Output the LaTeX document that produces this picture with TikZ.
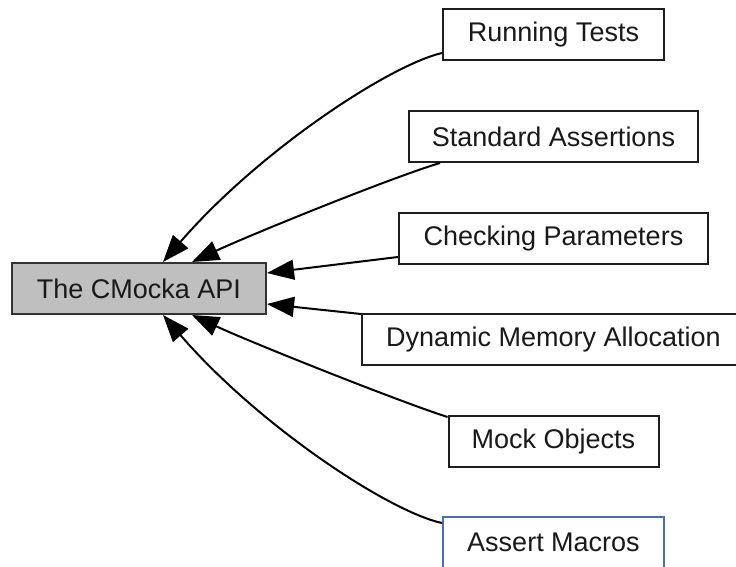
\documentclass[tikz,border=0pt]{standalone}
\usepackage{fontspec}
\setmainfont{Liberation Sans}
\usetikzlibrary{arrows.meta,calc}
\definecolor{boxgray}{RGB}{191,191,191}
\definecolor{edgeblue}{RGB}{74,108,176}
\definecolor{linegray}{RGB}{30,30,30}
\tikzset{
  grp/.style={draw=linegray, line width=2pt, fill=white, rectangle, inner sep=0pt,
    minimum height=51pt, font=\fontsize{27}{30}\selectfont, text=black!90},
  mainbox/.style={grp, fill=boxgray, draw=black!80},
  curbox/.style={grp, draw=edgeblue},
  dep/.style={draw=black, line width=2pt, {Triangle[length=27pt,width=20pt]}-}
}
\begin{document}
\begin{tikzpicture}[x=1pt,y=-1pt]
\useasboundingbox (0,0) rectangle (736,567);
\node[mainbox, minimum width=254pt] (api) at (139,288.5) {The CMocka API};
\node[grp, minimum width=221pt] (rt) at (553.5,35) {Running Tests};
\node[grp, minimum width=289pt] (sa) at (553.5,136.5) {Standard Assertions};
\node[grp, minimum width=309pt] (cp) at (553.5,238.5) {Checking Parameters};
\node[grp, minimum width=383pt] (dma) at (553.5,339.5) {Dynamic Memory Allocation};
\node[grp, minimum width=210pt] (mo) at (553.5,441.5) {Mock Objects};
\node[curbox, minimum width=221pt] (am) at (553.5,542.5) {Assert Macros};

\draw[dep] ([xshift=24pt]api.north) .. controls (260,150) and (390,65) .. ([yshift=-18pt]rt.west);
\draw[dep] ([xshift=53pt]api.north) .. controls (250,235) and (390,178) .. ([xshift=-113.5pt]sa.south);
\draw[dep] ([yshift=15.5pt]api.east) -- ([yshift=-18.5pt]cp.west);
\draw[dep] ([yshift=-15.5pt]api.east) -- ([yshift=-1pt]dma.north west);
\draw[dep] ([xshift=53pt]api.south) .. controls (250,342) and (395,400) .. ([yshift=-2pt]mo.north west);
\draw[dep] ([xshift=24pt]api.south) .. controls (260,427) and (390,512) .. ([yshift=19.5pt]am.west);
\end{tikzpicture}
\end{document}
